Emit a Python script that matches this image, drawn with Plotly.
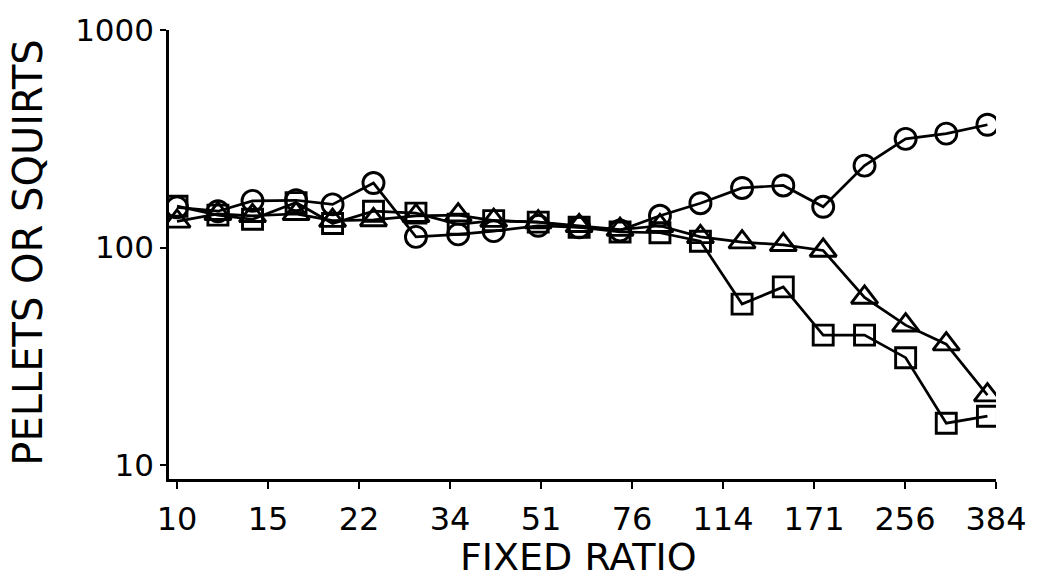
import plotly.graph_objects as go

# Fixed-ratio schedule values at which each session was run
fixed_ratio = [10, 12, 14, 17, 20, 24, 29, 35, 41, 50, 60, 72, 86, 103, 124,
               149, 178, 214, 257, 308, 370]

# Reinforcers earned per session for each of the three conditions
circles = [153, 147, 164, 165, 158, 198, 112, 115, 119, 126, 124, 120, 140,
           160, 188, 193, 154, 238, 316, 334, 367]
triangles = [132, 143, 140, 143, 133, 134, 140, 141, 133, 131, 126, 121, 126,
             112, 106, 103, 97, 59, 44, 36, 21]
squares = [155, 141, 135, 161, 129, 147, 144, 128, 133, 131, 124, 118, 117,
           107, 55, 66, 39.6, 39.6, 31.2, 15.6, 16.8]

# Axis ticks (ratios step by a factor of 1.5, labels rounded)
x_tick_values = [10, 15, 22.5, 33.75, 50.625, 75.94, 113.9, 170.9, 256.3, 384.4]
x_tick_labels = ["10", "15", "22", "34", "51", "76", "114", "171", "256", "384"]
y_tick_values = [10, 100, 1000]
y_tick_labels = ["10", "100", "1000"]

FONT = "DejaVu Sans"
INK = "black"

fig = go.Figure()

series = [
    (circles, "circle-open", 21),
    (triangles, "triangle-up-open", 23),
    (squares, "square-open", 20),
]
for values, symbol, size in series:
    fig.add_trace(go.Scatter(
        x=fixed_ratio,
        y=values,
        mode="lines+markers",
        line=dict(color=INK, width=2.7),
        marker=dict(symbol=symbol, size=size, color=INK,
                    line=dict(color=INK, width=2.9)),
        showlegend=False,
        hoverinfo="x+y",
    ))

fig.update_layout(
    width=1046,
    height=580,
    margin=dict(l=169, r=50, t=23, b=101),
    paper_bgcolor="white",
    plot_bgcolor="white",
    font=dict(family=FONT, color=INK),
    xaxis=dict(
        type="log",
        range=[0.98452, 2.58479],
        tickmode="array",
        tickvals=x_tick_values,
        ticktext=x_tick_labels,
        ticks="outside",
        ticklen=7,
        tickwidth=2,
        tickcolor=INK,
        ticklabelstandoff=3,
        showline=True,
        linecolor=INK,
        linewidth=2.5,
        showgrid=False,
        zeroline=False,
        tickfont=dict(family=FONT, size=32, color=INK),
    ),
    yaxis=dict(
        type="log",
        range=[0.93665, 3.0],
        tickmode="array",
        tickvals=y_tick_values,
        ticktext=y_tick_labels,
        ticks="outside",
        ticklen=6,
        tickwidth=2,
        tickcolor=INK,
        showline=True,
        linecolor=INK,
        linewidth=2.5,
        showgrid=False,
        zeroline=False,
        tickfont=dict(family=FONT, size=31, color=INK),
    ),
    annotations=[
        dict(
            text="FIXED RATIO",
            xref="paper", yref="paper",
            x=0.495, y=-0.173,
            xanchor="center", yanchor="middle",
            showarrow=False,
            font=dict(family=FONT, size=38, color=INK),
        ),
        dict(
            text="PELLETS OR SQUIRTS",
            xref="paper", yref="paper",
            x=-0.1705, y=0.504,
            xanchor="center", yanchor="middle",
            textangle=-90,
            showarrow=False,
            font=dict(family=FONT, size=40, color=INK),
        ),
    ],
)

fig.write_html("out.html")
